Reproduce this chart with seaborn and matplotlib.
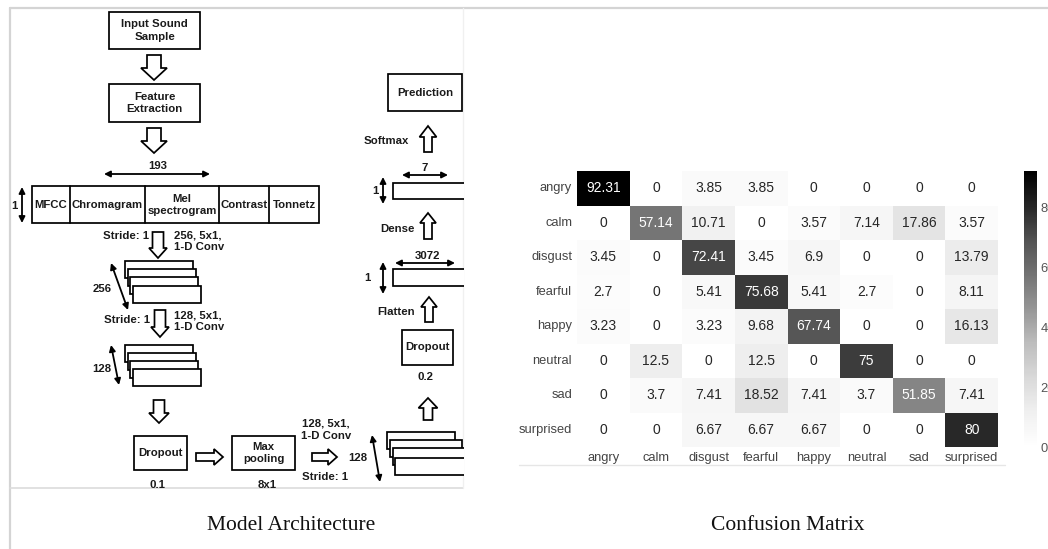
import numpy as np
import pandas as pd
import matplotlib
matplotlib.use("Agg")
import matplotlib.pyplot as plt
from matplotlib.patches import Rectangle, Polygon
import seaborn as sns

# ---------------- data ----------------
emotions = ["angry", "calm", "disgust", "fearful", "happy", "neutral", "sad", "surprised"]
row_angry = [92.31, 0, 3.85, 3.85, 0, 0, 0, 0]
row_calm = [0, 57.14, 10.71, 0, 3.57, 7.14, 17.86, 3.57]
row_disgust = [3.45, 0, 72.41, 3.45, 6.9, 0, 0, 13.79]
row_fearful = [2.7, 0, 5.41, 75.68, 5.41, 2.7, 0, 8.11]
row_happy = [3.23, 0, 3.23, 9.68, 67.74, 0, 0, 16.13]
row_neutral = [0, 12.5, 0, 12.5, 0, 75, 0, 0]
row_sad = [0, 3.7, 7.41, 18.52, 7.41, 3.7, 51.85, 7.41]
row_surprised = [0, 0, 6.67, 6.67, 6.67, 0, 0, 80]
cbar_ticks = [0, 20, 40, 60, 80]
captions = ["Model Architecture", "Confusion Matrix"]

matrix = pd.DataFrame([row_angry, row_calm, row_disgust, row_fearful, row_happy,
                       row_neutral, row_sad, row_surprised],
                      index=emotions, columns=emotions)

sns.set_style("white")
plt.rcParams["font.family"] = ["Liberation Sans", "DejaVu Sans"]

W, H = 1048, 549
fig = plt.figure(figsize=(W / 100, H / 100), dpi=100)
fig.patch.set_facecolor("white")

# ---------------- overlay axes in pixel coordinates ----------------
ax = fig.add_axes([0, 0, 1, 1])
ax.set_xlim(0, W)
ax.set_ylim(H, 0)
ax.axis("off")

clip = Rectangle((10, 8), 453.5, 480, transform=ax.transData)

LW = 1.25
BF = dict(fontsize=8.2, fontweight="bold", color="#1a1a1a", family=["Liberation Sans", "DejaVu Sans"])


def clipit(a):
    a.set_clip_path(clip)
    return a


def box(x, y, w, h, text=None):
    r = Rectangle((x, y), w, h, fc="white", ec="black", lw=LW, zorder=3)
    ax.add_patch(r)
    clipit(r)
    if text:
        ax.text(x + w / 2, y + h / 2, text, ha="center", va="center",
                linespacing=1.35, zorder=4, **BF)


def hollow(x0, y0, x1, y1, hw, sw, hl):
    p0 = np.array([x0, y0], float)
    p1 = np.array([x1, y1], float)
    u = (p1 - p0) / np.linalg.norm(p1 - p0)
    n = np.array([-u[1], u[0]])
    b = p1 - u * hl
    pts = [p0 + n * sw, b + n * sw, b + n * hw, p1, b - n * hw, b - n * sw, p0 - n * sw]
    pg = Polygon(pts, closed=True, fc="white", ec="black", lw=LW, joinstyle="miter", zorder=3)
    ax.add_patch(pg)


def dbl(x0, y0, x1, y1):
    ax.annotate("", xy=(x1, y1), xytext=(x0, y0),
                arrowprops=dict(arrowstyle="<|-|>", color="black", lw=1.3,
                                mutation_scale=9, shrinkA=0, shrinkB=0), zorder=4)


def label(x, y, s, ha="center"):
    ax.text(x, y, s, ha=ha, va="center", linespacing=1.25, zorder=4, **BF)


# frame lines
ax.plot([10, W], [8, 8], color="#d4d4d4", lw=1.6, zorder=1)
ax.plot([10, 10], [8, H], color="#d4d4d4", lw=1.6, zorder=1)
ax.plot([10, 463], [488, 488], color="#dcdcdc", lw=1.2, zorder=1)
ax.plot([463, 463], [8, 488], color="#f0f0f0", lw=1.0, zorder=1)
ax.plot([519, 1005], [465, 465], color="#e6e6e6", lw=1.0, zorder=1)

# ---- left column ----
box(109, 12, 91, 37, "Input Sound\nSample")
hollow(154, 55, 154, 80, 13, 7, 12)
box(109, 84, 91, 38, "Feature\nExtraction")
hollow(154, 128, 154, 153, 13, 7, 12)

dbl(104, 174, 210, 174)
label(158, 166, "193")

box(32, 186, 287, 37)
for xd in [70, 145, 219, 269]:
    ax.plot([xd, xd], [186, 223], color="black", lw=LW, zorder=4)
feat_names = ["MFCC", "Chromagram", "Mel\nspectrogram", "Contrast", "Tonnetz"]
feat_cx = [51, 107.5, 182, 244, 294]
for cx, nm in zip(feat_cx, feat_names):
    label(cx, 204.5, nm)
dbl(22, 187, 22, 223)
label(14, 206, "1")

label(126, 236, "Stride: 1")
hollow(158, 232, 158, 258, 9, 5.5, 10)
label(174, 241, "256, 5x1,\n1-D Conv", ha="left")

for (bx, by) in [(125, 261), (128, 269), (130, 277), (133, 286)]:
    box(bx, by, 68, 17)
dbl(111, 263, 128, 310)
label(102, 289, "256")

label(127, 320, "Stride: 1")
hollow(160, 310, 160, 337, 9, 5.5, 10)
label(174, 321, "128, 5x1,\n1-D Conv", ha="left")

for (bx, by) in [(125, 345), (128, 353), (130, 361), (133, 369)]:
    box(bx, by, 68, 17)
dbl(111, 345, 119, 385)
label(102, 369, "128")

hollow(159, 400, 159, 423, 10, 5.5, 10)
box(134, 436, 53, 34, "Dropout")
label(157, 485, "0.1")
hollow(196, 457, 223, 457, 8, 4, 9)
box(232, 436, 63, 34, "Max\npooling")
label(267, 485, "8x1")
label(326, 430, "128, 5x1,\n1-D Conv")
hollow(312, 457, 337, 457, 8, 4, 9)
label(325, 477, "Stride: 1")

for (bx, by) in [(387, 432), (390, 440), (393, 448), (395, 458)]:
    box(bx, by, 68 if bx < 390 else 72, 17)
dbl(372, 435, 380, 482)
label(367, 458, "128", ha="right")

# ---- right column ----
hollow(428, 420, 428, 398, 9.5, 4.5, 10)
label(426, 377, "0.2")
box(402, 330, 51, 35, "Dropout")
hollow(429, 322, 429, 297, 8, 4, 10)
label(415, 312, "Flatten", ha="right")
box(393, 269, 75, 17)
dbl(395, 263, 455, 263)
label(428, 256, "3072")
dbl(383, 262, 383, 294)
label(367, 278, "1")
hollow(428, 239, 428, 213, 8, 4, 10)
label(415, 229, "Dense", ha="right")
box(393, 183, 75, 16)
dbl(402, 175, 448, 175)
label(425, 168, "7")
dbl(383, 177, 383, 204)
label(375, 191, "1")
hollow(428, 152, 428, 126, 8.5, 4, 11)
label(409, 141, "Softmax", ha="right")
box(388, 74, 74, 37, "Prediction")

# captions
cap_kw = dict(fontsize=15.5, color="#111111", family=["Liberation Serif", "DejaVu Serif"],
              ha="center", va="center")
ax.text(291, 526, captions[0], **cap_kw)
ax.text(788, 526, captions[1], **cap_kw)

# ---------------- heatmap ----------------
hx0, hx1, hy0, hy1 = 577, 998, 171, 447
hax = fig.add_axes([hx0 / W, (H - hy1) / H, (hx1 - hx0) / W, (hy1 - hy0) / H])
cax = fig.add_axes([1024 / W, (H - hy1) / H, 13 / W, (hy1 - hy0) / H])
sns.heatmap(matrix, ax=hax, cbar_ax=cax, cmap="Greys", annot=True, fmt="g",
            annot_kws={"fontsize": 10}, vmin=0, vmax=matrix.values.max(),
            cbar_kws={"ticks": cbar_ticks})
hax.tick_params(axis="both", length=0, labelsize=9.3, colors="#444444", pad=3.5)
hax.set_xlabel("")
hax.set_ylabel("")
plt.setp(hax.get_yticklabels(), rotation=0)
plt.setp(hax.get_xticklabels(), rotation=0)
cax.tick_params(length=0, labelsize=9.3, colors="#555555", pad=2.5)
cax.yaxis.set_ticks_position("right")

fig.savefig("out.png", dpi=100, facecolor="white")
